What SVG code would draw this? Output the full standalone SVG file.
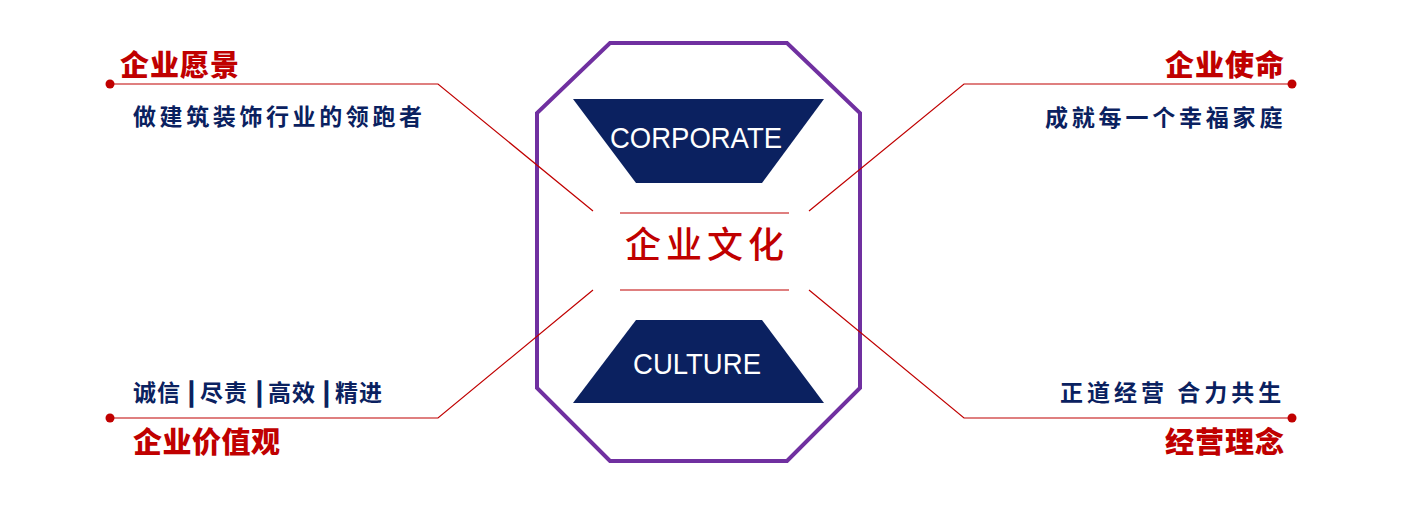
<svg xmlns="http://www.w3.org/2000/svg" width="1420" height="510" viewBox="0 0 1420 510">
<style>
.conn{fill:none;stroke:#C00000;stroke-width:1.2}
.dot{fill:#C00000}
.title{font-family:"Noto Sans CJK SC",sans-serif;font-weight:900;font-size:29px;fill:#C00000}
.sub{font-family:"Noto Sans CJK SC",sans-serif;font-weight:bold;font-size:23px;fill:#0A2160}
.bar{stroke:#0A2160;stroke-width:1.5}
.trap{fill:#0B2160}
.en{font-family:"Liberation Sans",Arial,sans-serif;font-size:29px;fill:#ffffff}
.center{font-family:"Noto Sans CJK SC",sans-serif;font-weight:500;font-size:36px;fill:#C00000}
</style>
<rect width="1420" height="510" fill="#ffffff"/>
<g id="center">
<polygon points="610,43 787,43 860,113 860,388 787,461 610,461 537,388 537,113" fill="none" stroke="#7030A0" stroke-width="4"/>
<polygon class="trap" points="573,99 824,99 762,183 636,183"/>
<text class="en" x="610" y="148" textLength="172" lengthAdjust="spacingAndGlyphs">CORPORATE</text>
<polygon class="trap" points="636,320 762,320 824,403 573,403"/>
<text class="en" x="633" y="374" textLength="128" lengthAdjust="spacingAndGlyphs">CULTURE</text>
<line x1="620" y1="213" x2="789" y2="213" stroke="#C00000" stroke-width="1.2"/>
<line x1="620" y1="290" x2="789" y2="290" stroke="#C00000" stroke-width="1.2"/>
<text class="center" x="625" y="258" letter-spacing="5">企业文化</text>
</g>
<g id="vision">
<text class="title" x="120" y="76" letter-spacing="1">企业愿景</text>
<text class="sub" x="133" y="125" letter-spacing="3.6">做建筑装饰行业的领跑者</text>
</g>
<g id="mission">
<text class="title" x="1165" y="76" letter-spacing="1">企业使命</text>
<text class="sub" x="1045" y="126" letter-spacing="3.8">成就每一个幸福家庭</text>
</g>
<g id="values">
<text class="sub" y="401" font-size="24" letter-spacing="1"><tspan x="133">诚信</tspan><tspan class="bar" x="188">|</tspan><tspan x="200">尽责</tspan><tspan class="bar" x="256">|</tspan><tspan x="268">高效</tspan><tspan class="bar" x="323">|</tspan><tspan x="335">精进</tspan></text>
<text class="title" x="133" y="453" letter-spacing="0.5">企业价值观</text>
</g>
<g id="philosophy">
<text class="sub" x="1060" y="401" letter-spacing="4">正道经营 合力共生</text>
<text class="title" x="1165" y="453" letter-spacing="1">经营理念</text>
</g>
<g id="connectors">
<polyline class="conn" points="110,84 438,84 593,211"/>
<polyline class="conn" points="1292,84 964,84 809,211"/>
<polyline class="conn" points="110,418 438,418 593,290"/>
<polyline class="conn" points="1292,418 964,418 809,290"/>
<circle class="dot" cx="110" cy="84" r="4.5"/>
<circle class="dot" cx="1292" cy="84" r="4.5"/>
<circle class="dot" cx="110" cy="418" r="4.5"/>
<circle class="dot" cx="1292" cy="418" r="4.5"/>
</g>
</svg>
